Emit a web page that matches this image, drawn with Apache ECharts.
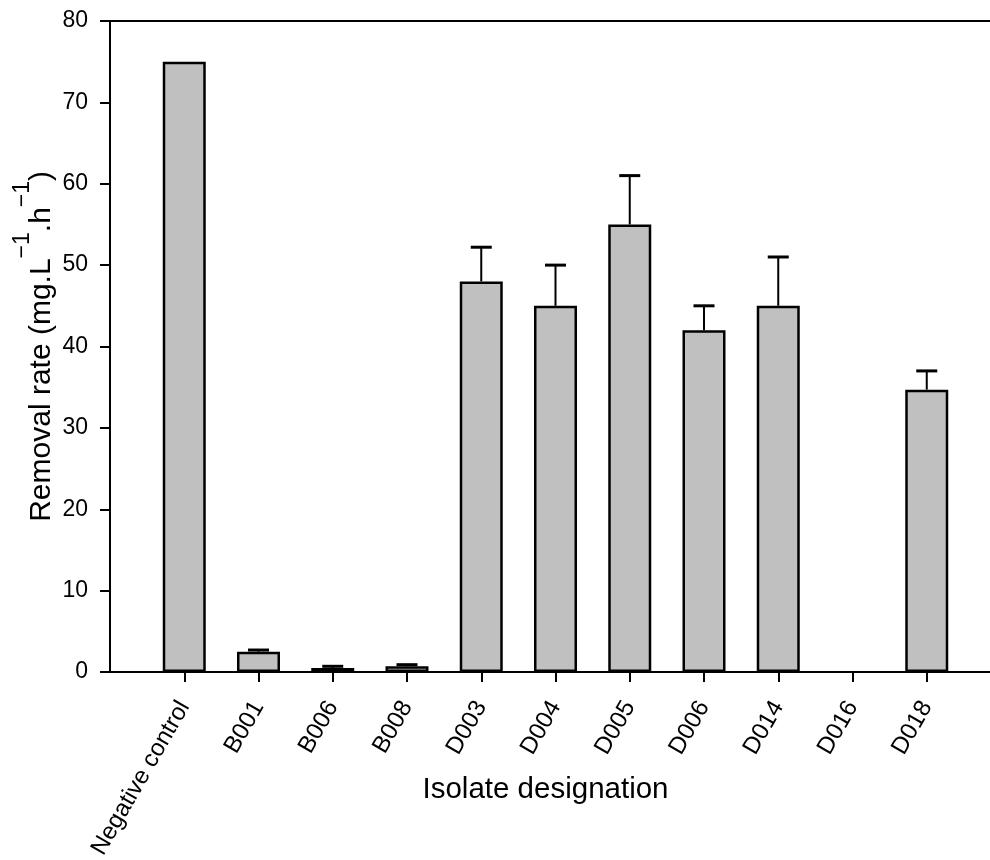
<!DOCTYPE html>
<html>
<head>
<meta charset="utf-8">
<script src="https://cdn.jsdelivr.net/npm/echarts@6/dist/echarts.min.js"></script>
<style>
  html, body { margin: 0; padding: 0; background: #fff; }
  #chart { width: 990px; height: 860px; }
</style>
</head>
<body>
<div id="chart"></div>
<script>
// Isolate designations along the x axis
const categories = ['Negative control', 'B001', 'B006', 'B008', 'D003', 'D004', 'D005', 'D006', 'D014', 'D016', 'D018'];
// Mean removal rate (mg.L-1.h-1); D016 showed no removal bar
const removalRate = [75, 2.5, 0.5, 0.7, 48, 45, 55, 42, 45, null, 34.7];
// Upper error (standard deviation)
const errorBars = [null, 0.2, 0.2, 0.2, 4.2, 5, 6, 3, 6, null, 2.3];
// Y axis range and step
const yMin = 0, yMax = 80, yStep = 10;

const FONT = 'Liberation Sans, Arial, sans-serif';

// Pad the category axis with an empty slot on each side so the frame
// extends one full category beyond the first and last bar.
const axisCats = [''].concat(categories, ['']);
const barData = [null].concat(removalRate, [null]);
const errData = [];
categories.forEach((c, i) => {
  if (removalRate[i] != null && errorBars[i] != null) {
    errData.push([i + 1, removalRate[i], errorBars[i]]);
  }
});

const chart = echarts.init(document.getElementById('chart'), null, { renderer: 'canvas' });

chart.setOption({
  backgroundColor: '#ffffff',
  animation: false,
  grid: { left: 110, top: 21, width: 891, height: 651, containLabel: false, outerBoundsMode: 'none' },
  xAxis: [{
    type: 'category',
    data: axisCats,
    boundaryGap: false,
    name: 'Isolate designation',
    nameLocation: 'middle',
    nameGap: 103,
    nameMoveOverlap: false,
    nameTextStyle: { fontFamily: FONT, fontSize: 29.5, color: '#000', padding: [0, 20, 0, 0] },
    axisLine: { show: true, lineStyle: { color: '#000', width: 2 } },
    axisTick: {
      show: true, length: 10, lineStyle: { color: '#000', width: 2 },
      interval: (idx, val) => val !== ''
    },
    axisLabel: {
      interval: 0, rotate: 60, margin: 31,
      fontFamily: FONT, fontSize: 24, color: '#000'
    },
    splitLine: { show: false }
  }, {
    type: 'category',
    position: 'top',
    data: axisCats,
    boundaryGap: false,
    axisLine: { show: true, lineStyle: { color: '#000', width: 2 } },
    axisTick: { show: false },
    axisLabel: { show: false },
    splitLine: { show: false }
  }],
  yAxis: {
    type: 'value',
    min: yMin, max: yMax, interval: yStep,
    // superscripts sit at the top of a tall line, main text at its bottom
    name: '{sp| }{m|Removal rate (mg.L}{sup|\u22121}{m|.h}{sup|\u22121}{m|)}',
    nameLocation: 'middle',
    nameGap: 53,
    nameRotate: 90,
    nameMoveOverlap: false,
    nameTextStyle: {
      fontFamily: FONT, fontSize: 30, color: '#000',
      rich: {
        sp: { fontFamily: FONT, fontSize: 1, lineHeight: 46 },
        m: { fontFamily: FONT, fontSize: 30, color: '#000', lineHeight: 30, verticalAlign: 'bottom' },
        sup: { fontFamily: FONT, fontSize: 23, color: '#000', lineHeight: 23, verticalAlign: 'top' }
      }
    },
    axisLine: { show: true, lineStyle: { color: '#000', width: 2 } },
    axisTick: { show: true, length: 10, lineStyle: { color: '#000', width: 2 } },
    axisLabel: { margin: 22, fontFamily: FONT, fontSize: 23, color: '#000' },
    splitLine: { show: false }
  },
  series: [{
    type: 'bar',
    data: barData,
    barWidth: 43,
    itemStyle: { color: '#c0c0c0', borderColor: '#000', borderWidth: 2.5 },
    z: 2
  }, {
    type: 'custom',
    data: errData,
    z: 3,
    renderItem: (params, api) => {
      const x = api.value(0);
      const v = api.value(1);
      const e = api.value(2);
      const base = api.coord([x, v]);
      const top = api.coord([x, v + e]);
      const half = 10.5;
      return {
        type: 'group',
        children: [{
          type: 'line',
          shape: { x1: base[0], y1: base[1], x2: top[0], y2: top[1] },
          style: { stroke: '#000', lineWidth: 2 }
        }, {
          type: 'line',
          shape: { x1: top[0] - half, y1: top[1], x2: top[0] + half, y2: top[1] },
          style: { stroke: '#000', lineWidth: 3 }
        }]
      };
    }
  }]
});
</script>
</body>
</html>
